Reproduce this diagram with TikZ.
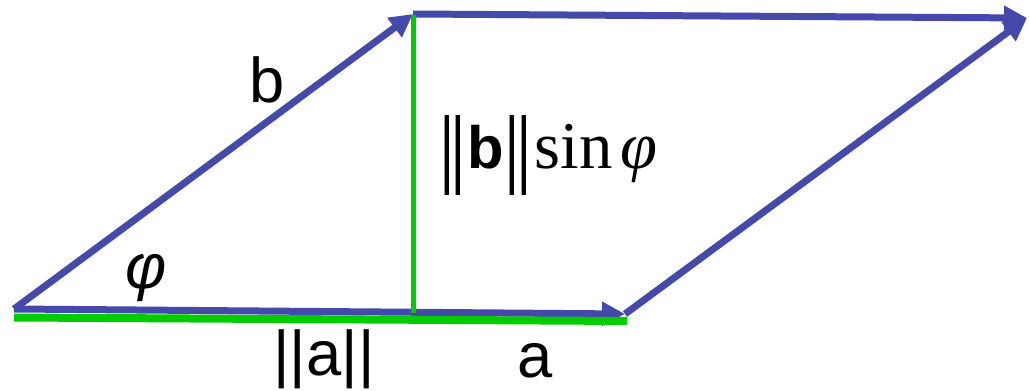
\documentclass[tikz,border=0pt]{standalone}
\usepackage{fontspec}
\setmainfont{Liberation Sans}
\newfontfamily\seriffont{Liberation Serif}
\usetikzlibrary{arrows.meta}

\definecolor{vecblue}{RGB}{69,74,170}
\definecolor{projgreen}{RGB}{0,204,0}

\tikzset{
  vector/.style={vecblue, line width=0.14cm, -{Triangle[length=0.46cm, width=0.46cm]}},
  height/.style={projgreen, line width=0.1cm},
  base/.style={projgreen, line width=0.16cm},
  lbl/.style={inner sep=0pt, font=\fontsize{36}{40}\selectfont}
}

% barra doble de la norma
\newcommand{\normbar}{\raisebox{-5pt}{\fontsize{50}{50}\selectfont\seriffont|\kern-3.4pt|}}

\begin{document}
\begin{tikzpicture}[x=0.02cm, y=-0.02cm]
            \useasboundingbox (0,0) rectangle (1029,391);

            % Coordenadas
            \coordinate (o) at (14,309);
            \coordinate (atip) at (625,314);
            \coordinate (btip) at (413,14);
            \coordinate (ctip) at (1027,18);
            \coordinate (foot) at (413,313);
            \coordinate (g0) at (14,317.5);
            \coordinate (g1) at (627,321);

            % Vectores del paralelogramo
            \draw[vector] (o) -- (atip);
            \draw[vector] (o) -- (btip);
            \draw[vector] (btip) -- (ctip);
            \draw[vector] (atip) -- (ctip);

            % Altura y base
            \draw[height] (foot) -- ([yshift=-0.02cm]btip);
            \draw[base] (g0) -- (g1);

            % Etiquetas
            \node[lbl] (lb) at (267,80) {b};
            \node[lbl] (lphi) at (146,278) {\itshape φ};
            \node[lbl] (lnorma) at (324,359) {||a||};
            \node[lbl] (la) at (535,361) {a};
            \node[lbl, font=\fontsize{38}{46}\selectfont] (lh) at (548,156)
              {\normbar{\fontsize{34}{38}\selectfont\bfseries b}\normbar\kern1pt{\seriffont sin}\kern4.5pt{\seriffont\itshape φ}};
        \end{tikzpicture}
\end{document}
